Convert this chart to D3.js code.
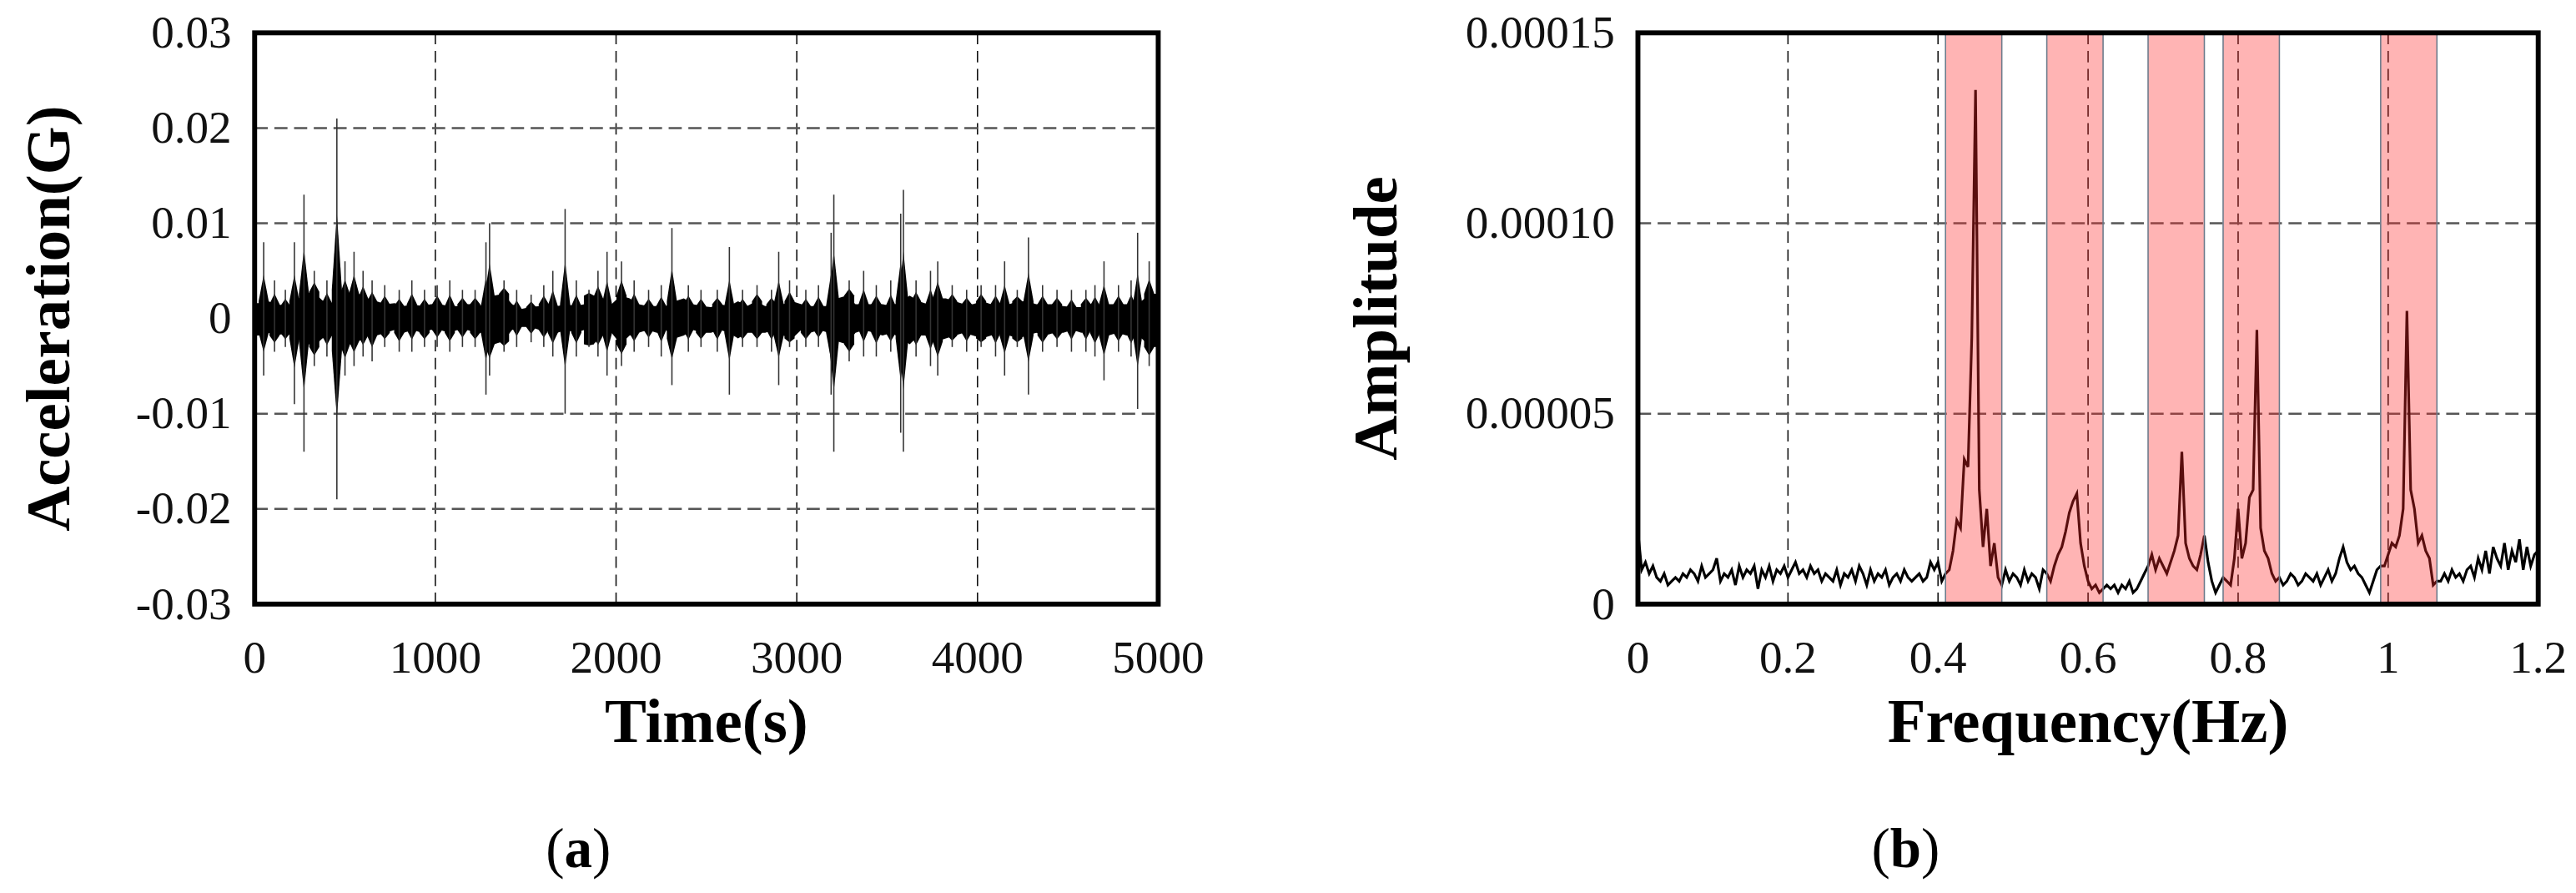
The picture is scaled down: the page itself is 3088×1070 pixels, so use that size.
<!DOCTYPE html>
<html>
<head>
<meta charset="utf-8">
<script src="https://cdn.jsdelivr.net/npm/d3@7"></script>
<style>
  body { margin: 0; background: #fff; }
</style>
</head>
<body>
<svg id="chart"></svg>
<script>
// ---- panel (a): acceleration time history (values in 1e-3 G) ----
let envTimes = d3.range(0, 5000, 50); // bin starts, 50 s bins
let envUpper = [1.6,1.8,1.5,1.3,1.8,2.6,2.8,1.9,1.6,3.0, 2.5,2.6,2.1,1.8,1.5,1.6,1.3,1.5,1.3,1.5,
  1.5,1.3,1.3,1.5,1.5,1.3,2.4,2.6,1.5,1.0, 1.2,1.3,1.5,1.3,1.5,1.3,1.5,2.4,2.1,1.5,
  2.4,2.1,1.5,1.3,1.3,1.3,1.8,2.1,1.5,1.3, 1.2,1.5,1.3,1.8,1.3,1.8,1.3,1.5,1.5,1.8,
  1.5,1.3,1.3,1.3,2.1,2.4,1.5,1.5,1.5,1.5, 1.3,1.8,2.4,1.8,1.5,2.1,2.1,1.8,1.5,1.5,
  1.8,1.5,1.5,1.5,1.8,1.8,1.5,1.5,1.5,1.3, 1.2,1.2,1.5,1.3,1.5,1.5,1.5,1.3,2.1,2.6];
let envLower = [-1.8,-1.5,-1.8,-1.5,-2.1,-2.4,-3.0,-2.1,-1.8,-3.4, -2.7,-2.4,-1.8,-1.8,-1.5,-1.2,-1.5,-1.2,-1.5,-1.2,
  -1.2,-1.5,-1.2,-1.2,-1.5,-1.5,-2.7,-2.4,-1.2,-0.9, -0.9,-1.2,-1.2,-1.5,-1.2,-1.5,-1.2,-2.7,-1.8,-1.5,
  -2.7,-1.8,-1.5,-1.2,-1.5,-1.2,-2.1,-1.8,-1.2,-1.5, -1.5,-1.2,-1.5,-2.1,-1.5,-1.5,-1.5,-1.2,-1.8,-2.1,
  -1.2,-1.5,-1.2,-1.5,-2.4,-2.7,-1.5,-1.2,-1.5,-1.8, -1.5,-2.1,-2.7,-1.8,-1.8,-2.4,-2.1,-1.8,-1.5,-1.8,
  -2.1,-1.8,-1.5,-1.8,-2.1,-1.8,-1.5,-1.8,-1.5,-1.5, -1.2,-1.5,-1.2,-1.5,-1.8,-1.5,-1.8,-1.5,-2.4,-3.0];
let spikeTimes = [50,110,170,220,273,330,400,455,500,550,600,650,720,800,870,940,1010,1080,1150,1220,1280,1300,1380,1450,
  1530,1600,1650,1718,1780,1850,1900,1950,2030,2100,2180,2250,2309,2400,2470,2560,2627,2700,2780,2860,2900,2960,3050,3120,
  3190,3205,3290,3370,3440,3520,3575,3590,3660,3740,3780,3860,3940,4020,4100,4150,4220,4282,4360,4440,4520,4600,4650,4700,4780,4850,4886,4950];
let spikeMax = [8,4,3,8,13,5,4,21,6,7,5,4,3.5,3,4,3,3.5,4,3,3,8,10,4,3,
  2.5,3.5,5,11.5,4,3,5,7,6,4,3,3.5,9.5,3.5,3,3,7.5,3,3.5,3,7,4,3,3.5,
  9,13,4,5,3.5,4,11,13.5,4,5,6,3.5,3,3.5,3.5,6,3,8.5,3.5,3,3,3,3.5,6,3.5,4,9,6];
let spikeMin = [-6,-3.5,-3,-9,-14,-5,-4,-19,-6,-5,-4,-4.5,-3,-3.5,-3.5,-3,-3,-3.5,-3,-3,-8,-6,-3.5,-3,
  -2.5,-3,-4,-10,-4,-3,-4,-6,-5,-3.5,-3,-4,-7,-3.5,-3,-3.5,-8,-3,-3,-3.5,-7,-3,-3,-3,
  -8,-14,-4.5,-4,-4,-3.5,-12,-14,-4,-5,-6,-3,-3.5,-3,-4,-6,-3,-8,-3.5,-3,-3.5,-3.5,-4,-6.5,-3.5,-4,-9.5,-5];
let timeTicks = [0,1000,2000,3000,4000,5000];
let accTicks = [-0.03,-0.02,-0.01,0,0.01,0.02,0.03];

// ---- panel (b): amplitude spectrum (values in 1e-5), step 0.005 Hz ----
let freqStep = 0.005;
let amp = [
  1.9,0.9,1.1,0.8,1.0,0.7,0.6,0.8,0.5,0.6,0.7,0.6,0.8,0.7,0.9,0.8,0.6,1.0,0.7,0.8,
  0.9,1.2,0.6,0.8,0.7,0.9,0.5,1.0,0.7,0.9,0.8,1.0,0.4,0.9,0.7,1.0,0.6,0.9,0.8,1.0,
  0.7,0.9,1.1,0.8,0.9,0.7,1.0,0.8,0.9,0.6,0.8,0.7,0.6,0.9,0.5,0.8,0.7,0.9,0.6,1.0,
  0.8,0.5,0.9,0.6,0.8,0.7,0.9,0.5,0.7,0.8,0.6,0.9,0.7,0.6,0.7,0.8,0.6,0.7,1.1,0.9,
  1.1,0.6,0.8,0.9,1.4,2.2,2.0,3.8,3.6,7.0,13.5,3.0,1.5,2.5,1.0,1.6,0.7,0.5,0.9,0.6,
  0.8,0.7,0.5,0.9,0.6,0.8,0.7,0.4,0.9,0.8,0.6,1.0,1.3,1.5,1.9,2.4,2.7,2.9,1.6,1.0,
  0.6,0.4,0.5,0.3,0.4,0.5,0.4,0.5,0.3,0.5,0.4,0.6,0.3,0.4,0.6,0.8,1.0,1.3,0.9,1.2,
  1.0,0.8,1.1,1.4,1.8,4.0,1.6,1.2,1.0,0.9,1.3,1.8,1.1,0.6,0.3,0.5,0.7,0.6,0.5,1.2,
  2.5,1.2,1.6,2.8,3.0,7.2,2.0,1.4,1.2,0.8,0.6,0.7,0.5,0.6,0.8,0.7,0.5,0.6,0.8,0.7,
  0.6,0.8,0.5,0.7,0.9,0.6,0.8,1.2,1.5,1.1,0.9,1.0,0.8,0.7,0.5,0.3,0.6,0.9,1.0,1.0,
  1.3,1.6,1.5,1.8,2.5,7.7,3.0,2.5,1.6,1.8,1.4,1.2,0.5,0.6,0.6,0.8,0.6,0.9,0.7,0.8,
  0.6,0.9,1.0,0.7,1.2,0.9,1.4,0.8,1.5,1.2,1.0,1.6,0.9,1.4,1.1,1.7,0.9,1.5,1.0,1.3,1.4];
let bandStart = [0.41,0.545,0.68,0.78,0.99];
let bandEnd   = [0.485,0.62,0.755,0.855,1.065];
let freqTicks = [0,0.2,0.4,0.6,0.8,1.0,1.2];
let freqTickLabels = ['0','0.2','0.4','0.6','0.8','1','1.2'];
let ampTicks = [0,5,10,15];
let ampTickLabels = ['0','0.00005','0.00010','0.00015'];

let FONT = '"Liberation Serif", "Times New Roman", "DejaVu Serif", serif';
let W = 1568, H = 544;
let svg = d3.select('#chart')
  .attr('width', 3088).attr('height', 1070)
  .attr('viewBox', [0, 0, W, H])
  .attr('preserveAspectRatio', 'none')
  .attr('font-family', FONT);

let drawFrame = (g, x, y, xt, xl, yt, yl, gx, gy, xTitle, yTitle, yTitleX, tag, tagX) => {
  g.append('g').selectAll('line').data(gx).join('line')
    .attr('x1', d => x(d)).attr('x2', d => x(d))
    .attr('y1', y.range()[0]).attr('y2', y.range()[1])
    .attr('stroke', '#111').attr('stroke-width', 0.8).attr('stroke-dasharray', '7,4');
  g.append('g').selectAll('line').data(gy).join('line')
    .attr('y1', d => y(d)).attr('y2', d => y(d))
    .attr('x1', x.range()[0]).attr('x2', x.range()[1])
    .attr('stroke', '#555').attr('stroke-width', 1.3).attr('stroke-dasharray', '8,4');
  g.append('g').selectAll('text').data(xt).join('text')
    .attr('x', d => x(d)).attr('y', y.range()[0] + 42)
    .attr('text-anchor', 'middle').attr('font-size', 28).attr('fill', '#111')
    .text((d, i) => xl[i]);
  g.append('g').selectAll('text').data(yt).join('text')
    .attr('x', x.range()[0] - 14).attr('y', d => y(d) + 9)
    .attr('text-anchor', 'end').attr('font-size', 28).attr('fill', '#111')
    .text((d, i) => yl[i]);
  g.append('text').attr('x', (x.range()[0] + x.range()[1]) / 2).attr('y', y.range()[0] + 84)
    .attr('text-anchor', 'middle').attr('font-size', 38).attr('font-weight', 'bold').text(xTitle);
  g.append('text').attr('transform', `translate(${yTitleX},${(y.range()[0] + y.range()[1]) / 2}) rotate(-90)`)
    .attr('text-anchor', 'middle').attr('font-size', 38).attr('font-weight', 'bold').text(yTitle);
  let t = g.append('text').attr('x', tagX).attr('y', 528).attr('text-anchor', 'middle').attr('font-size', 34);
  t.append('tspan').text('(');
  t.append('tspan').attr('font-weight', 'bold').text(tag);
  t.append('tspan').text(')');
}

let drawBox = (g, x, y) => {
  g.append('rect')
    .attr('x', x.range()[0]).attr('y', y.range()[1])
    .attr('width', x.range()[1] - x.range()[0]).attr('height', y.range()[0] - y.range()[1])
    .attr('fill', 'none').attr('stroke', '#000').attr('stroke-width', 3);
}

// ---- panel (a) ----
let ga = svg.append('g');
let xa = d3.scaleLinear().domain([0, 5000]).range([155, 705]);
let ya = d3.scaleLinear().domain([-0.03, 0.03]).range([368, 20]);
drawFrame(ga, xa, ya, timeTicks, timeTicks.map(String), accTicks, accTicks.map(d => d === 0 ? '0' : String(d)),
  [1000,2000,3000,4000], [-0.02,-0.01,0.01,0.02], 'Time(s)', 'Acceleration(G)', 42, 'a', 352);

let env = envTimes.map((t, i) => ({t: t + 25, hi: envUpper[i] / 1000, lo: envLower[i] / 1000}));
env.unshift({t: 0, hi: envUpper[0] / 1000, lo: envLower[0] / 1000});
env.push({t: 5000, hi: envUpper[99] / 1000, lo: envLower[99] / 1000});
ga.append('path').datum(env)
  .attr('d', d3.area().x(d => xa(d.t)).y0(d => ya(d.lo)).y1(d => ya(d.hi)))
  .attr('fill', '#000');

// bursts: narrow triangles around each spike, with the thin spike line on top
let coreAt = (t, arr) => arr[Math.min(99, Math.floor(t / 50))] / 1000;
let burst = spikeTimes.map((t, i) => ({t, hi: spikeMax[i] / 1000, lo: spikeMin[i] / 1000}));
ga.append('g').selectAll('path').data(burst).join('path')
  .attr('d', d => {
    let w = 14, k = 0.45;
    return `M${xa(d.t - w * 2)},${ya(coreAt(d.t, envUpper))}` +
      `L${xa(d.t)},${ya(coreAt(d.t, envUpper) + (d.hi - coreAt(d.t, envUpper)) * k)}` +
      `L${xa(d.t + w * 2)},${ya(coreAt(d.t, envUpper))}` +
      `L${xa(d.t + w * 2)},${ya(coreAt(d.t, envLower))}` +
      `L${xa(d.t)},${ya(coreAt(d.t, envLower) + (d.lo - coreAt(d.t, envLower)) * k)}` +
      `L${xa(d.t - w * 2)},${ya(coreAt(d.t, envLower))}Z`;
  })
  .attr('fill', '#000');
ga.append('g').selectAll('line').data(burst).join('line')
  .attr('x1', d => xa(d.t)).attr('x2', d => xa(d.t))
  .attr('y1', d => ya(d.lo)).attr('y2', d => ya(d.hi))
  .attr('stroke', '#333').attr('stroke-width', 0.8);
drawBox(ga, xa, ya);

// ---- panel (b) ----
let gb = svg.append('g');
let xb = d3.scaleLinear().domain([0, 1.2]).range([997, 1545]);
let yb = d3.scaleLinear().domain([0, 15]).range([368, 20]);
drawFrame(gb, xb, yb, freqTicks, freqTickLabels, ampTicks, ampTickLabels,
  [0.2,0.4,0.6,0.8,1.0], [5,10], 'Frequency(Hz)', 'Amplitude', 850, 'b', 1160);

gb.append('path').datum(amp)
  .attr('d', d3.line().x((d, i) => xb(i * freqStep)).y(d => yb(d)))
  .attr('fill', 'none').attr('stroke', '#000').attr('stroke-width', 1.6);

gb.append('g').selectAll('rect').data(bandStart).join('rect')
  .attr('x', d => xb(d)).attr('y', yb(15))
  .attr('width', (d, i) => xb(bandEnd[i]) - xb(d)).attr('height', yb(0) - yb(15))
  .attr('fill', 'rgba(255,40,40,0.35)').attr('stroke', '#6c7b8b').attr('stroke-width', 0.8);
drawBox(gb, xb, yb);
</script>
</body>
</html>
